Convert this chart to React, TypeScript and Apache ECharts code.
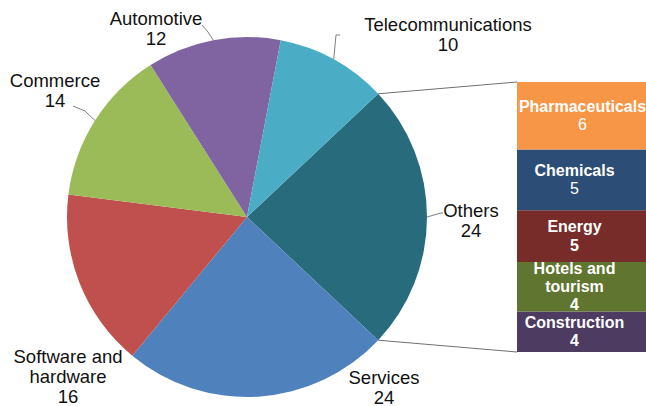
import React, { useEffect, useRef } from "react";
import * as echarts from "echarts";

// Pie data (clockwise from the upper edge of "Others")
const pieNames = ["Others", "Services", "Software and\nhardware", "Commerce", "Automotive", "Telecommunications"];
const pieValues = [24, 24, 16, 14, 12, 10];
const pieColors = ["#286B7C", "#4F81BD", "#C0504D", "#9BBB59", "#8064A2", "#4BACC6"];

// Breakdown of "Others" (top to bottom)
const barNames = ["Pharmaceuticals", "Chemicals", "Energy", "Hotels and\ntourism", "Construction"];
const barValues = [6.0, 5.4, 4.6, 4.4, 3.6];
const barColors = ["#F79646", "#2C4D75", "#772C2A", "#5F7530", "#4D3B62"];
const barValueBold = [false, false, true, true, true];

// Label placement (centre of each pie label block)
const pieLabelPos: [number, number][] = [
  [471, 220],
  [384, 387],
  [68, 376],
  [55, 90],
  [156, 28],
  [448, 34],
];
// leader line bends/ends (null = no leader line)
const pieLeader: ([number, number][] | null)[] = [
  [[441, 213], [443, 213]],
  null,
  null,
  [[85, 111], [73, 106]],
  [[208, 32], [202, 25]],
  [[336, 35], [340, 35]],
];

const FONT = "'Liberation Sans', Arial, sans-serif";

export default function App() {
  const ref = useRef<HTMLDivElement>(null);
  useEffect(() => {
    if (!ref.current) return;
    const chart = echarts.init(ref.current, null, { renderer: "svg" });
    const total = pieValues.reduce((a, b) => a + b, 0);
    const othersShare = pieValues[0] / total;
    const startAngle = othersShare * 180;

    const barSeries: any[] = [];
    for (let k = barNames.length - 1; k >= 0; k--) {
      barSeries.push({
        type: "bar",
        name: barNames[k],
        stack: "others",
        xAxisIndex: 0,
        yAxisIndex: 0,
        barWidth: "100%",
        data: [barValues[k]],
        itemStyle: { color: barColors[k] },
        label: {
          show: true,
          position: "inside",
          offset: [k === 0 ? 1 : -7, 0],
          formatter: (p: any) => `{n|${p.seriesName}}\n{v|${Math.round(p.value)}}`,
          rich: {
            n: { fontFamily: FONT, fontSize: 16, fontWeight: "bold", color: "#fff", lineHeight: 18, align: "center" },
            v: { fontFamily: FONT, fontSize: 16, fontWeight: barValueBold[k] ? "bold" : "normal", color: "#fff", lineHeight: 19, align: "center" },
          },
        },
      });
    }

    chart.setOption({
      animation: false,
      backgroundColor: "#fff",
      grid: { left: 517, top: 82, width: 140, height: 270 },
      xAxis: { type: "category", data: ["Others"], show: false, boundaryGap: true },
      yAxis: { type: "value", min: 0, max: pieValues[0], show: false },
      series: [
        {
          type: "pie",
          center: [247, 217],
          radius: 180,
          startAngle,
          clockwise: true,
          avoidLabelOverlap: false,
          itemStyle: { borderWidth: 0 },
          label: {
            show: true,
            position: "outside",
            formatter: "{b}\n{c}",
            fontFamily: FONT,
            fontSize: 18.5,
            lineHeight: 20,
            color: "#111",
            align: "center",
          },
          labelLine: { show: true, length: 6, length2: 4, lineStyle: { color: "#808080", width: 1 } },
          labelLayout: (p: any) => {
            const pos = pieLabelPos[p.dataIndex];
            const res: any = { x: pos[0], y: pos[1], align: "center", verticalAlign: "middle" };
            const ld = pieLeader[p.dataIndex];
            if (ld && p.labelLinePoints && p.labelLinePoints[0]) {
              res.labelLinePoints = [p.labelLinePoints[0], ld[0], ld[1]];
            }
            return res;
          },
          data: pieNames.map((n, i) => ({
            name: n,
            value: pieValues[i],
            itemStyle: { color: pieColors[i] },
            labelLine: { show: pieLeader[i] !== null },
          })),
        },
        ...barSeries,
      ],
    });

    // connector lines from the "Others" slice edges to the bar corners
    try {
      const model = (chart as any).getModel();
      const pieData = model.getSeriesByIndex(0).getData();
      const sl = pieData.getItemLayout(0);
      const topSeries = model.getSeriesByIndex(barSeries.length).getData().getItemLayout(0);
      const botSeries = model.getSeriesByIndex(1).getData().getItemLayout(0);
      const a1 = Math.min(sl.startAngle, sl.endAngle);
      const a2 = Math.max(sl.startAngle, sl.endAngle);
      const p1 = [sl.cx + sl.r * Math.cos(a1), sl.cy + sl.r * Math.sin(a1)];
      const p2 = [sl.cx + sl.r * Math.cos(a2), sl.cy + sl.r * Math.sin(a2)];
      const topY = Math.min(topSeries.y, topSeries.y + topSeries.height);
      const botY = Math.max(botSeries.y, botSeries.y + botSeries.height);
      const barX = Math.min(topSeries.x, topSeries.x + topSeries.width);
      chart.setOption({
        graphic: [
          { type: "line", shape: { x1: p1[0], y1: p1[1], x2: barX, y2: topY }, style: { stroke: "#707070", lineWidth: 1 }, z: 10 },
          { type: "line", shape: { x1: p2[0], y1: p2[1], x2: barX, y2: botY }, style: { stroke: "#707070", lineWidth: 1 }, z: 10 },
        ],
      });
    } catch (e) {
      // ignore
    }

    return () => chart.dispose();
  }, []);
  return <div ref={ref} style={{ position: "absolute", left: 0, top: 0, width: 646, height: 406 }} />;
}
